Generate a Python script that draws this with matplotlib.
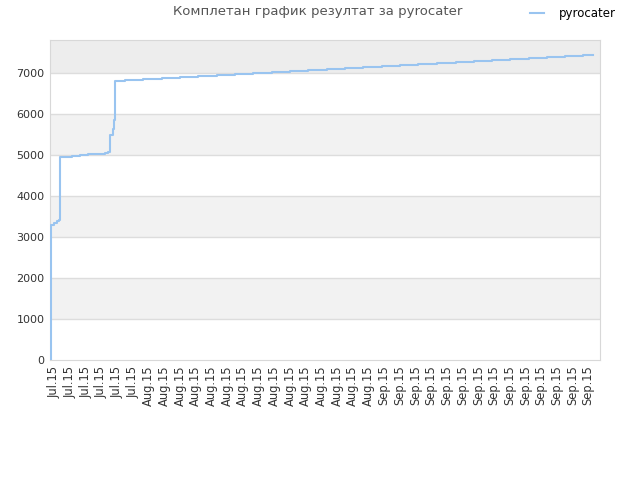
import matplotlib
matplotlib.use("Agg")
import matplotlib.pyplot as plt

# ----------- datos -----------
naslov = "Комплетан график резултат за pyrocater"
igrac = "pyrocater"

etikete = ["Jul.15"] * 6 + ["Aug.15"] * 15 + ["Sep.15"] * 14

# dias desde el primer tick, y puntaje (linea escalonada)
dani = [-0.45, -0.4, 0.0, 0.3, 0.57, 0.65, 0.7, 1.21, 2.23, 3.25, 4.27, 5.41,
        6.43, 6.8, 7.1, 7.45, 7.55, 7.65, 7.7,
        8.98, 11.27, 13.69, 15.99, 18.28, 20.7, 22.99, 25.29, 27.71, 30.0,
        32.29, 34.71, 37.0, 39.3, 41.7, 44.0, 46.3, 48.7, 51.1, 53.4, 55.7,
        58.0, 60.4, 62.7, 65.0, 67.3, 68.6]
poeni = [0, 3290, 3330, 3380, 3410, 4340, 4950, 4960, 4975, 4995, 5010, 5030,
         5050, 5070, 5490, 5630, 5850, 6580, 6805,
         6830, 6853, 6879, 6902, 6928, 6951, 6977, 7001, 7026, 7050,
         7075, 7099, 7124, 7148, 7173, 7198, 7222, 7246, 7272, 7297, 7321,
         7346, 7371, 7396, 7420, 7446, 7446]

y_tikovi = [0, 1000, 2000, 3000, 4000, 5000, 6000, 7000]

# ----------- grafico -----------
fig = plt.figure(figsize=(6.4, 4.8), dpi=100)
ax = fig.add_axes([50 / 640, 1 - 360 / 480, 550 / 640, 320 / 480])

ymax = 7800
# franjas alternadas
for i, y0 in enumerate(y_tikovi):
    y1 = min(y0 + 1000, ymax)
    if y0 == 7000:
        boja = "#ededed"
    elif i % 2 == 1:
        boja = "#f2f2f2"
    else:
        boja = "white"
    ax.axhspan(y0, y1, color=boja, zorder=0, lw=0)
for y in y_tikovi[1:]:
    ax.axhline(y, color="#dddddd", lw=1, zorder=1)

ax.plot(dani, poeni, drawstyle="steps-post", color="#99c4f0", lw=1.5,
        zorder=3, label=igrac)

ax.set_xlim(-0.57, 69.5)
ax.set_ylim(0, ymax)
ax.set_yticks(y_tikovi)
ax.set_yticklabels([str(v) for v in y_tikovi], fontsize=8, color="#333333")
ax.set_xticks([2 * i for i in range(len(etikete))])
ax.set_xticklabels(etikete, rotation=90, fontsize=8.3, color="#333333")
ax.tick_params(length=0, pad=4)

for s in ax.spines.values():
    s.set_color("#d8d8d8")

fig.text(318 / 640, 1 - 12 / 480, naslov, ha="center", va="center",
         fontsize=9.5, color="#555555")
leg = fig.legend(loc="center", bbox_to_anchor=(573 / 640, 1 - 14 / 480),
                 frameon=False, fontsize=8.5, handlelength=1.2,
                 handletextpad=1.2)

plt.savefig("out.png", dpi=100)
